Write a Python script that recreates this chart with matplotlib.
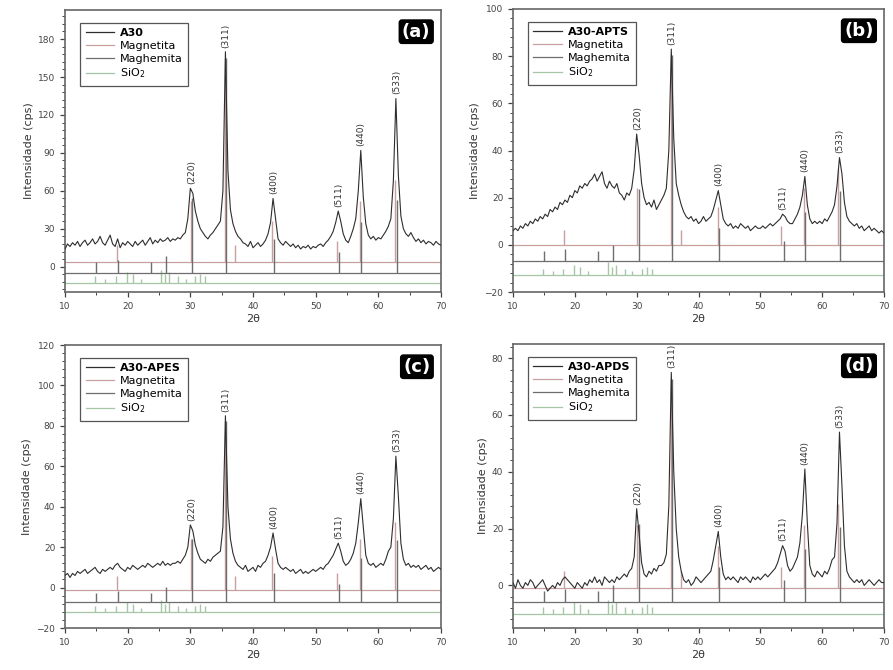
import numpy as np
import matplotlib.pyplot as plt
from matplotlib.ticker import MultipleLocator, AutoMinorLocator

# scan grid (2 theta, degrees)
two_theta = np.round(np.arange(10.0, 70.01, 0.4), 1)

a30 = [
    14, 18, 16, 19, 17, 20, 16, 19, 21, 17,
    19, 22, 18, 20, 24, 19, 17, 21, 25, 18,
    16, 22, 15, 19, 17, 20, 18, 16, 20, 17,
    19, 21, 17, 20, 23, 18, 21, 19, 22, 20,
    21, 23, 20, 22, 21, 23, 22, 25, 27, 38,
    62, 58, 44, 36, 30, 27, 24, 22, 25, 27,
    30, 33, 36, 60, 170, 76, 45, 34, 28, 24,
    22, 19, 18, 16, 20, 15, 17, 19, 16, 18,
    21, 26, 35, 54, 38, 22, 19, 17, 20, 18,
    16, 18, 15, 17, 14, 16, 15, 17, 14, 16,
    15, 17, 18, 16, 19, 21, 24, 28, 35, 44,
    36, 26, 21, 19, 24, 30, 38, 60, 92, 55,
    34, 25, 22, 24, 21, 23, 22, 25, 28, 32,
    38, 68, 133, 72, 40, 30, 26, 24, 27, 23,
    20, 22, 19, 21, 18, 20, 19, 17, 20, 18,
    17]

a30_apts = [
    6, 7, 6, 8, 7, 9, 8, 10, 9, 11,
    10, 12, 11, 13, 12, 15, 14, 16, 15, 18,
    17, 19, 18, 21, 20, 23, 22, 25, 24, 26,
    25, 27, 28, 30, 27, 29, 31, 26, 24, 27,
    25, 24, 26, 22, 21, 19, 22, 21, 24, 32,
    47, 38, 26, 20, 17, 18, 16, 19, 15, 17,
    19, 21, 24, 40, 83, 45, 26, 21, 17, 14,
    12, 11, 12, 10, 11, 9, 10, 12, 10, 11,
    12, 15, 19, 23, 17, 11, 9, 8, 9, 7,
    8, 7, 9, 8, 7, 8, 6, 7, 8, 7,
    7, 8, 7, 8, 9, 8, 9, 10, 11, 13,
    12, 10, 9, 9, 11, 13, 16, 21, 29, 17,
    11, 9, 10, 9, 10, 9, 11, 10, 12, 14,
    17, 25, 37, 30, 18, 12, 10, 9, 8, 9,
    7, 8, 6, 7, 8, 6, 7, 6, 5, 6,
    5]

a30_apes = [
    6, 7, 5, 7, 6, 8, 7, 8, 9, 7,
    8, 9, 10, 8, 7, 9, 8, 9, 10, 9,
    11, 12, 10, 9, 8, 10, 9, 11, 10, 9,
    10, 11, 10, 12, 11, 10, 11, 12, 11, 13,
    11, 12, 11, 12, 12, 13, 12, 14, 16, 20,
    31, 28, 21, 17, 14, 13, 12, 14, 13, 15,
    16, 17, 18, 30, 85, 40, 24, 17, 13, 11,
    10, 9, 11, 8, 9, 10, 8, 11, 10, 12,
    13, 16, 20, 27, 19, 12, 10, 9, 10, 9,
    8, 9, 7, 8, 9, 7, 8, 7, 8, 9,
    8, 9, 10, 9, 11, 12, 14, 16, 19, 22,
    18, 13, 11, 12, 14, 17, 22, 32, 44, 30,
    16, 12, 11, 12, 10, 11, 12, 11, 14, 18,
    20, 34, 65, 45, 22, 14, 11, 12, 10, 11,
    10, 11, 9, 10, 11, 9, 10, 8, 9, 10,
    9]

a30_apds = [
    1, -1, 2, 0, -1, 1, 0, 2, 1, -1,
    0, 1, 2, 0, -2, -1, 0, -1, 1, 0,
    2, 3, 2, 1, 0, -1, 1, 0, -1, 1,
    0, 2, 1, 3, 1, 2, 0, 3, 2, 1,
    2, 1, 3, 2, 3, 4, 3, 5, 6, 10,
    27, 18, 8, 4, 3, 5, 4, 6, 5, 7,
    7, 8, 11, 28, 75, 40, 20, 10, 5, 2,
    1, 2, 0, 1, 3, 2, 1, 2, 3, 4,
    5, 9, 14, 19, 10, 4, 2, 3, 2, 3,
    2, 1, 3, 2, 3, 2, 1, 3, 2, 3,
    2, 3, 4, 3, 4, 5, 6, 8, 11, 14,
    12, 7, 5, 6, 8, 10, 15, 25, 41, 22,
    7, 4, 3, 5, 4, 3, 5, 4, 6, 9,
    10, 22, 54, 35, 14, 5, 3, 2, 1, 2,
    1, 2, 0, 1, 2, 1, 0, 1, 2, 1,
    1]

samples = ['A30', 'A30-APTS', 'A30-APES', 'A30-APDS']
patterns = [a30, a30_apts, a30_apes, a30_apds]
tags = ['(a)', '(b)', '(c)', '(d)']

hkl_labels = ['(220)', '(311)', '(400)', '(511)', '(440)', '(533)']
hkl_pos = [30.2, 35.6, 43.3, 53.7, 57.2, 62.9]

# reference patterns (relative intensities)
magnetita_pos = [18.3, 30.1, 35.5, 37.1, 43.1, 53.4, 57.0, 62.6]
magnetita_rel = [8, 30, 100, 8, 20, 10, 30, 40]
maghemita_pos = [15.0, 18.4, 23.8, 26.1, 30.3, 35.7, 43.3, 53.8, 57.3, 62.9]
maghemita_rel = [5, 6, 5, 8, 35, 100, 16, 10, 24, 34]
sio2_pos = [14.8, 16.4, 18.1, 19.9, 20.8, 22.2, 25.3, 26.0, 26.6, 28.1, 29.3, 30.8, 31.6, 32.4]
sio2_rel = [3, 2, 3, 5, 4, 2, 6, 4, 5, 3, 2, 3, 4, 3]

c_data = '#2e2e2e'
c_mag = '#c9a0a0'
c_mgh = '#6e6e6e'
c_sio = '#a6c6a6'

# panel layout in pixels (left, top, right, bottom), ylim, ytick step, baselines
W, H = 893, 670
panels = [
    dict(box=(65, 10, 441, 292), ylim=(-20, 203), step=30, bases=(4, -5, -13)),
    dict(box=(513, 9, 884, 292), ylim=(-20, 100), step=20, bases=(0, -7, -13)),
    dict(box=(65, 345, 441, 628), ylim=(-20, 120), step=20, bases=(-1, -7, -12)),
    dict(box=(513, 344, 884, 628), ylim=(-15, 85), step=20, bases=(-1, -6, -10)),
]

plt.rcParams['font.family'] = 'DejaVu Sans'
fig = plt.figure(figsize=(W / 100, H / 100), dpi=100)

for i, p in enumerate(panels):
    l, t, r, b = p['box']
    ax = fig.add_axes([l / W, 1 - b / H, (r - l) / W, (b - t) / H])
    y = np.array(patterns[i], dtype=float)
    ymax = y.max()
    b_mag, b_mgh, b_sio = p['bases']

    # reference stick patterns
    for base, pos, rel, col in [(b_sio, sio2_pos, sio2_rel, c_sio),
                                (b_mag, magnetita_pos, magnetita_rel, c_mag),
                                (b_mgh, maghemita_pos, maghemita_rel, c_mgh)]:
        ax.axhline(base, color=col, lw=0.9, zorder=1)
        rel = np.array(rel) / 100.0
        ax.vlines(pos, base, base + rel * (ymax - base) * 0.97, color=col, lw=1.0, zorder=1)

    ax.plot(two_theta, y, color=c_data, lw=0.8, zorder=3)

    # peak labels
    for lab, xp in zip(hkl_labels, hkl_pos):
        m = np.abs(two_theta - xp) <= 0.45
        ax.annotate(lab, (xp, y[m].max()), xytext=(0, 3), textcoords='offset points',
                    rotation=90, ha='center', va='bottom', fontsize=6.5, color='#333333')

    # legend proxies
    h = [plt.Line2D([], [], color=c_data, lw=0.9),
         plt.Line2D([], [], color=c_mag, lw=0.9),
         plt.Line2D([], [], color=c_mgh, lw=0.9),
         plt.Line2D([], [], color=c_sio, lw=0.9)]
    leg = ax.legend(h, [samples[i], 'Magnetita', 'Maghemita', 'SiO$_2$'],
                    loc='upper left', bbox_to_anchor=(0.025, 0.975), fontsize=8,
                    handlelength=2.6, handletextpad=0.5, labelspacing=0.25,
                    borderpad=0.5, fancybox=False, framealpha=1, edgecolor='#555555')
    leg.get_frame().set_linewidth(0.9)
    leg.get_texts()[0].set_fontweight('bold')

    ax.text(0.972, 0.955, tags[i], transform=ax.transAxes, ha='right', va='top',
            fontsize=13, fontweight='bold', color='white',
            bbox=dict(boxstyle='round,pad=0.15', fc='black', ec='black'))

    ax.set_xlim(10, 70)
    ax.set_ylim(*p['ylim'])
    ax.xaxis.set_major_locator(MultipleLocator(10))
    ax.xaxis.set_minor_locator(MultipleLocator(5))
    ax.yaxis.set_major_locator(MultipleLocator(p['step']))
    ax.yaxis.set_minor_locator(AutoMinorLocator(5))
    ax.tick_params(which='both', direction='out', labelsize=6.5, colors='#444444')
    ax.tick_params(which='major', length=3.5, width=0.9)
    ax.tick_params(which='minor', length=2, width=0.7)
    for s in ax.spines.values():
        s.set_color('#666666')
        s.set_linewidth(1.2)
    ax.set_xlabel('2θ', fontsize=8, labelpad=2, color='#333333')
    ax.set_ylabel('Intensidade (cps)', fontsize=8, labelpad=3, color='#333333')

fig.savefig('out.png', dpi=100)
